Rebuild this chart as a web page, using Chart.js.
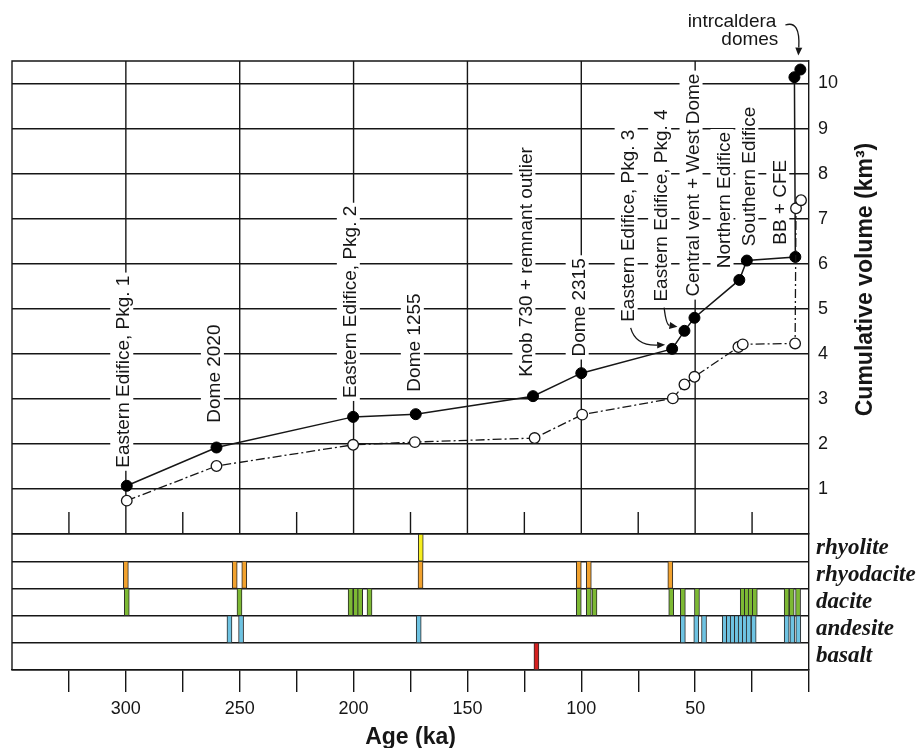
<!DOCTYPE html>
<html>
<head>
<meta charset="utf-8">
<script src="https://cdn.jsdelivr.net/npm/chart.js@4.4.0/dist/chart.umd.min.js"></script>
<style>
  html, body { margin: 0; padding: 0; background: #ffffff; }
  #wrap { width: 920px; height: 748px; }
</style>
</head>
<body>
<div id="wrap"><canvas id="volChart"></canvas></div>
<script>
// Cumulative erupted volume (filled = upper estimate, open = lower estimate)
const filledAges = [299.6, 260.2, 200.2, 172.7, 121.2, 100.0, 60.1, 54.7, 50.3, 30.6, 27.3, 6.0, 6.4, 3.8];
const filledVolumes = [1.07, 1.92, 2.60, 2.66, 3.06, 3.57, 4.11, 4.51, 4.80, 5.64, 6.07, 6.15, 10.14, 10.31];
const openAges = [299.6, 260.2, 200.2, 173.1, 120.5, 99.6, 59.8, 54.7, 50.3, 31.0, 29.1, 6.1, 5.7, 3.5];
const openVolumes = [0.74, 1.51, 1.98, 2.04, 2.13, 2.65, 3.01, 3.32, 3.49, 4.15, 4.21, 4.23, 7.23, 7.41];

// Event names written above the curve
const eventNames = [
  "Eastern Edifice, Pkg. 1", "Dome 2020", "Eastern Edifice, Pkg. 2", "Dome 1255",
  "Knob 730 + remnant outlier", "Dome 2315", "Eastern Edifice, Pkg. 3", "Eastern Edifice, Pkg. 4",
  "Central vent + West Dome", "Northern Edifice", "Southern Edifice", "BB + CFE"
];
// where each name starts: [age, volume]
const eventAnchors = [
  [300.7, 1.47], [260.9, 2.47], [201.2, 3.02], [173.1, 3.16], [124.1, 3.49], [100.7, 3.94],
  [79.2, 4.71], [64.5, 5.16], [50.7, 5.27], [37.1, 5.90], [26.2, 6.39], [12.6, 6.42]
];

// Rock type of dated units
const rockTypes = ["rhyolite", "rhyodacite", "dacite", "andesite", "basalt"];
const rhyoliteAges = [170.5];
const rhyodaciteAges = [300.0, 252.2, 248.0, 170.6, 101.1, 96.7, 60.9];
const daciteAges = [299.6, 250.1, 201.3, 199.0, 197.1, 193.0, 101.1, 96.7, 94.2, 60.5, 55.4, 49.2,
  29.1, 27.3, 25.6, 23.8, 9.8, 7.6, 4.8];
const andesiteAges = [254.5, 249.4, 171.4, 55.4, 49.5, 46.1, 37.0, 35.2, 33.5, 31.7, 30.0, 28.2,
  26.5, 24.3, 9.8, 7.3, 4.7];
const basaltAges = [119.7];

// Axes
const ageTicks = [0, 25, 50, 75, 100, 125, 150, 175, 200, 225, 250, 275, 300, 325];
const ageLabels = [300, 250, 200, 150, 100, 50];
const volumeTicks = [0, 1, 2, 3, 4, 5, 6, 7, 8, 9, 10];

document.addEventListener("DOMContentLoaded", function () {
  const SANS = "'Liberation Sans', Arial, Helvetica, sans-serif";
  const SERIF = "'Liberation Serif', 'Times New Roman', serif";
  const INK = "#161616";
  const LW = 1.4;
  const MARK_HALF = 1.1; // half width of a rock-type mark, in ka

  function rockSet(label, ages, color) {
    return {
      type: "bar",
      label: label,
      indexAxis: "y",
      xAxisID: "x",
      yAxisID: "yRock",
      data: ages.map((a) => ({ y: label, x: [a - MARK_HALF, a + MARK_HALF] })),
      backgroundColor: color,
      borderColor: "#2a2a2a",
      borderWidth: 1,
      borderSkipped: false,
      grouped: false,
      barPercentage: 1,
      categoryPercentage: 1,
    };
  }

  function drawRotated(ctx, text, x, y, font, boxed) {
    ctx.save();
    ctx.translate(x, y);
    ctx.rotate(-Math.PI / 2);
    ctx.font = font;
    const w = ctx.measureText(text).width;
    if (boxed) {
      ctx.fillStyle = "#ffffff";
      ctx.fillRect(-3, -14, w + 6, 23);
    }
    ctx.fillStyle = INK;
    ctx.textBaseline = "middle";
    ctx.textAlign = boxed ? "left" : "center";
    ctx.fillText(text, 0, 0);
    ctx.restore();
  }

  function drawArrow(ctx, sx, sy, cx, cy, ex, ey) {
    const ang = Math.atan2(ey - cy, ex - cx);
    const L = 8, W = 3.5;
    const bx = ex - Math.cos(ang) * L, by = ey - Math.sin(ang) * L;
    ctx.beginPath();
    ctx.moveTo(sx, sy);
    ctx.quadraticCurveTo(cx, cy, bx, by);
    ctx.stroke();
    ctx.beginPath();
    ctx.moveTo(ex, ey);
    ctx.lineTo(bx + Math.sin(ang) * W, by - Math.cos(ang) * W);
    ctx.lineTo(bx - Math.sin(ang) * W, by + Math.cos(ang) * W);
    ctx.closePath();
    ctx.fill();
  }

  // frame, age grid of the upper panel and the event names
  const upperPanel = {
    id: "upperPanel",
    beforeDatasetsDraw(chart) {
      const { ctx, chartArea } = chart;
      const xs = chart.scales.x;
      const ys = chart.scales.y;
      ctx.save();
      ctx.strokeStyle = INK;
      ctx.lineWidth = LW;
      ctx.beginPath();
      ctx.moveTo(chartArea.left, chartArea.bottom);
      ctx.lineTo(chartArea.left, chartArea.top);
      ctx.lineTo(chartArea.right, chartArea.top);
      ctx.stroke();

      ageTicks.forEach((v) => {
        if (v === 0) return;
        const px = xs.getPixelForValue(v);
        ctx.beginPath();
        if (v % 50 === 0) {
          ctx.moveTo(px, ys.top);
        } else {
          ctx.moveTo(px, ys.bottom - 22);
        }
        ctx.lineTo(px, ys.bottom);
        ctx.stroke();
      });

      eventNames.forEach((name, i) => {
        const px = xs.getPixelForValue(eventAnchors[i][0]);
        const py = ys.getPixelForValue(eventAnchors[i][1]);
        drawRotated(ctx, name, px, py, `19px ${SANS}`, true);
      });
      ctx.restore();
    },
    afterDraw(chart) {
      const { ctx, chartArea } = chart;
      const xs = chart.scales.x;
      const ys = chart.scales.y;
      ctx.save();
      ctx.strokeStyle = INK;
      ctx.fillStyle = INK;
      ctx.lineWidth = 1.3;

      // pointers from Pkg. 3 and Pkg. 4 names to their points
      [[6, 6, 5, 1], [7, 7, 2, -2]].forEach(([li, pi, cdx, cdy]) => {
        const sx = xs.getPixelForValue(eventAnchors[li][0]) + 2;
        const sy = ys.getPixelForValue(eventAnchors[li][1]) + 6;
        const ex = xs.getPixelForValue(filledAges[pi]) - 7;
        const ey = ys.getPixelForValue(filledVolumes[pi]) - 4;
        drawArrow(ctx, sx, sy, sx + cdx, ey + cdy, ex, ey);
      });

      // intracaldera domes note
      const last = filledAges.length - 1;
      const tx = xs.getPixelForValue(filledAges[last]);
      const ty = ys.getPixelForValue(filledVolumes[last]);
      ctx.font = `19px ${SANS}`;
      ctx.textAlign = "right";
      ctx.textBaseline = "alphabetic";
      ctx.fillText("intrcaldera", tx - 24, chartArea.top - 34);
      ctx.fillText("domes", tx - 22, chartArea.top - 16);
      drawArrow(ctx, tx - 15, chartArea.top - 36, tx, chartArea.top - 41, tx - 2, ty - 14);

      // volume axis title
      drawRotated(ctx, "Cumulative volume (km³)", chartArea.right + 57,
        (ys.top + ys.bottom) / 2 - 18, `bold 23px ${SANS}`, false);
      ctx.restore();
    },
  };

  const ctx = document.getElementById("volChart");
  new Chart(ctx, {
    type: "scatter",
    data: {
      datasets: [
        {
          label: "open",
          data: openAges.map((a, i) => ({ x: a, y: openVolumes[i] })),
          showLine: true,
          borderColor: INK,
          borderWidth: 1.3,
          borderDash: [9, 3, 2, 3],
          pointRadius: 5.3,
          pointBackgroundColor: "#ffffff",
          pointBorderColor: INK,
          pointBorderWidth: 1.3,
          xAxisID: "x",
          yAxisID: "y",
        },
        {
          label: "filled",
          data: filledAges.map((a, i) => ({ x: a, y: filledVolumes[i] })),
          showLine: true,
          borderColor: INK,
          borderWidth: 1.5,
          pointRadius: 5.5,
          pointBackgroundColor: "#000000",
          pointBorderColor: "#000000",
          pointBorderWidth: 1,
          xAxisID: "x",
          yAxisID: "y",
        },
        rockSet("rhyolite", rhyoliteAges, "#f6ee1f"),
        rockSet("rhyodacite", rhyodaciteAges, "#f2a22e"),
        rockSet("dacite", daciteAges, "#7db934"),
        rockSet("andesite", andesiteAges, "#6ec3e2"),
        rockSet("basalt", basaltAges, "#d4201f"),
      ],
    },
    options: {
      responsive: true,
      maintainAspectRatio: false,
      animation: false,
      layout: { padding: { left: 12, top: 61, right: 0, bottom: 0 } },
      plugins: {
        legend: { display: false },
        tooltip: { enabled: false },
      },
      scales: {
        x: {
          type: "linear",
          reverse: true,
          min: 0,
          max: 350,
          afterBuildTicks: (scale) => {
            scale.ticks = ageTicks.map((v) => ({ value: v }));
          },
          afterFit: (scale) => {
            scale.height = 78;
          },
          ticks: {
            autoSkip: false,
            maxRotation: 0,
            padding: 6,
            color: INK,
            font: { family: SANS, size: 18 },
            callback: (v) => (ageLabels.includes(v) ? String(v) : ""),
          },
          grid: { drawOnChartArea: false, tickLength: 22, color: INK, lineWidth: LW },
          border: { display: true, color: INK, width: LW },
          title: {
            display: true,
            text: "Age (ka)",
            color: INK,
            font: { family: SANS, size: 23, weight: "bold", lineHeight: 0.9 },
            padding: { top: 0, bottom: 0 },
          },
        },
        y: {
          type: "linear",
          position: "right",
          stack: "right",
          stackWeight: 473,
          min: 0,
          max: 10.5,
          afterBuildTicks: (scale) => {
            scale.ticks = volumeTicks.map((v) => ({ value: v }));
          },
          afterFit: (scale) => {
            scale.width = 111;
          },
          ticks: {
            padding: 9,
            color: INK,
            font: { family: SANS, size: 18 },
            callback: (v) => (v === 0 ? "" : String(v)),
          },
          grid: { drawTicks: false, color: INK, lineWidth: LW },
          border: { display: true, color: INK, width: LW },
        },
        yRock: {
          type: "category",
          labels: rockTypes,
          position: "right",
          stack: "right",
          stackWeight: 136,
          offset: true,
          afterFit: (scale) => {
            scale.width = 111;
          },
          ticks: {
            autoSkip: false,
            padding: 7,
            color: INK,
            font: { family: SERIF, size: 23, style: "italic", weight: "bold" },
          },
          grid: { offset: true, drawTicks: false, color: INK, lineWidth: LW },
          border: { display: true, color: INK, width: LW },
        },
      },
    },
    plugins: [upperPanel],
  });
});
</script>
</body>
</html>
